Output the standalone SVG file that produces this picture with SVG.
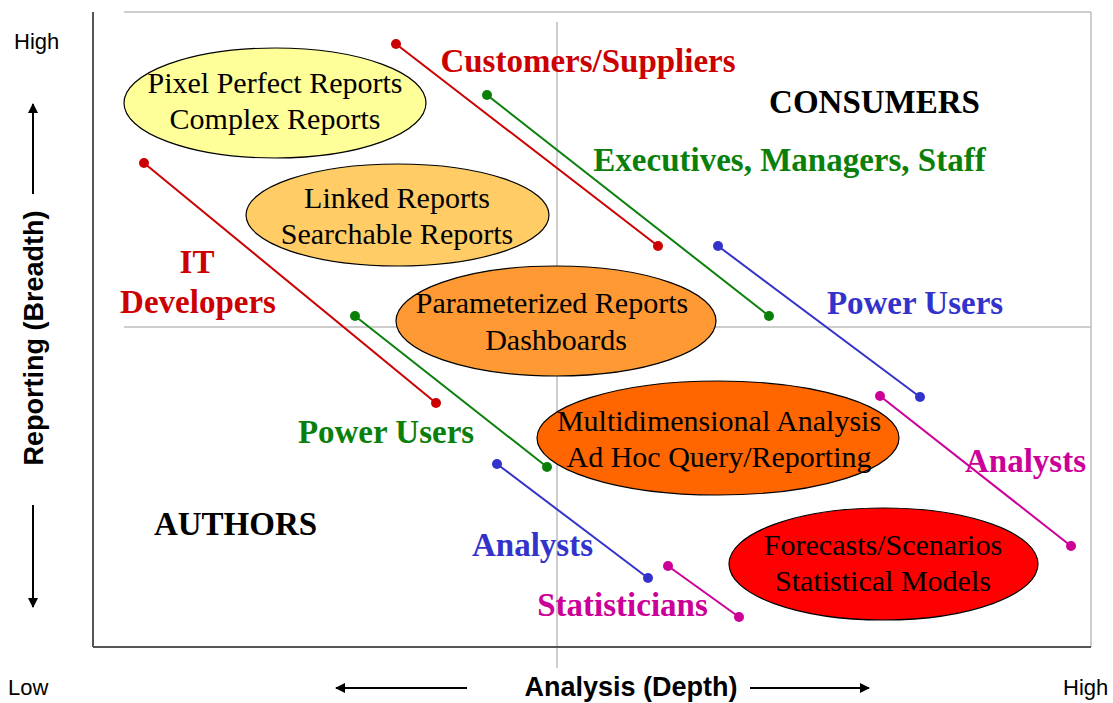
<svg xmlns="http://www.w3.org/2000/svg" width="1113" height="703" viewBox="0 0 1113 703">
<defs>
<style>
.grid{stroke:#BDBDBD;stroke-width:1.5;fill:none}
.axis{stroke:#555;stroke-width:2;fill:none}
.arr{stroke:#000;stroke-width:2;fill:none}
.ax{font-family:"Liberation Sans",Arial,sans-serif;fill:#000}
.axb{font-family:"Liberation Sans",Arial,sans-serif;font-weight:bold;font-size:27px;fill:#000}
.ell{stroke:#000;stroke-width:1.2}
.et{font-family:"Liberation Serif","Times New Roman",serif;font-size:30px;fill:#000;text-anchor:middle}
.lb{font-family:"Liberation Serif","Times New Roman",serif;font-size:33px;font-weight:bold;text-anchor:middle}
.red{stroke:#CC0000;fill:#CC0000}
.grn{stroke:#0A800A;fill:#0A800A}
.blu{stroke:#3333CC;fill:#3333CC}
.mag{stroke:#CC0099;fill:#CC0099}
.conn line{stroke-width:2}
.conn circle{stroke:none}
</style>
<marker id="ah" viewBox="0 0 10 10" refX="9" refY="5" markerWidth="5" markerHeight="5" orient="auto" markerUnits="strokeWidth">
<path d="M0,0 L10,5 L0,10 z" fill="#000"/>
</marker>
</defs>
<rect width="1113" height="703" fill="#fff"/>

<g id="grid">
<line class="grid" x1="124" y1="12" x2="1091" y2="12"/>
<line class="grid" x1="1091" y1="12" x2="1091" y2="647"/>
<line class="grid" x1="124" y1="327" x2="1091" y2="327"/>
<line class="grid" x1="557" y1="22" x2="557" y2="668"/>
<line class="axis" x1="93" y1="12" x2="93" y2="647"/>
<line class="axis" x1="93" y1="647" x2="1091" y2="647"/>
</g>

<g id="axes">
<text class="ax" x="14" y="49" font-size="22">High</text>
<text class="ax" x="8" y="695" font-size="22">Low</text>
<text class="ax" x="1063" y="695" font-size="22">High</text>
<text class="axb" x="631" y="696" text-anchor="middle">Analysis (Depth)</text>
<text class="axb" transform="translate(43,338) rotate(-90)" text-anchor="middle">Reporting (Breadth)</text>
<line class="arr" x1="467" y1="688" x2="336" y2="688" marker-end="url(#ah)"/>
<line class="arr" x1="750" y1="688" x2="869" y2="688" marker-end="url(#ah)"/>
<line class="arr" x1="33" y1="194" x2="33" y2="104" marker-end="url(#ah)"/>
<line class="arr" x1="33" y1="505" x2="33" y2="607" marker-end="url(#ah)"/>
</g>

<g id="n-pixel">
<ellipse class="ell" cx="275" cy="103" rx="151" ry="55" fill="#FFFF99"/>
<text class="et" x="275" y="93">Pixel Perfect Reports</text>
<text class="et" x="275" y="129">Complex Reports</text>
</g>
<g id="n-linked">
<ellipse class="ell" cx="397.5" cy="215" rx="151.5" ry="51" fill="#FFCC66"/>
<text class="et" x="397" y="208">Linked Reports</text>
<text class="et" x="397" y="244">Searchable Reports</text>
</g>
<g id="n-param">
<ellipse class="ell" cx="556" cy="321" rx="160" ry="55" fill="#FF9933"/>
<text class="et" x="552" y="313">Parameterized Reports</text>
<text class="et" x="556" y="350">Dashboards</text>
</g>
<g id="n-multi">
<ellipse class="ell" cx="718" cy="438" rx="181" ry="57" fill="#FF6600"/>
<text class="et" x="719" y="431">Multidimensional Analysis</text>
<text class="et" x="719" y="467">Ad Hoc Query/Reporting</text>
</g>
<g id="n-forecast">
<ellipse class="ell" cx="883.5" cy="564" rx="154.5" ry="56" fill="#FF0000"/>
<text class="et" x="883" y="555">Forecasts/Scenarios</text>
<text class="et" x="883" y="591">Statistical Models</text>
</g>

<g id="labels">
<text class="lb" x="588" y="72" fill="#CC0000">Customers/Suppliers</text>
<text class="lb" x="874.5" y="113" fill="#000">CONSUMERS</text>
<text class="lb" x="789.5" y="171" fill="#0A800A">Executives, Managers, Staff</text>
<text class="lb" x="915" y="314" fill="#3333CC">Power Users</text>
<text class="lb" x="197" y="273" fill="#CC0000">IT</text>
<text class="lb" x="198" y="313" fill="#CC0000">Developers</text>
<text class="lb" x="386" y="443" fill="#0A800A">Power Users</text>
<text class="lb" x="235.5" y="535" fill="#000">AUTHORS</text>
<text class="lb" x="532.5" y="556" fill="#3333CC">Analysts</text>
<text class="lb" x="622.5" y="616" fill="#CC0099">Statisticians</text>
<text class="lb" x="1025.5" y="472" fill="#CC0099">Analysts</text>
</g>

<g id="connectors" class="conn">
<g class="red"><line x1="396" y1="44" x2="658" y2="246"/><circle cx="396" cy="44" r="5"/><circle cx="658" cy="246" r="5"/></g>
<g class="red"><line x1="144" y1="163" x2="436" y2="403"/><circle cx="144" cy="163" r="5"/><circle cx="436" cy="403" r="5"/></g>
<g class="grn"><line x1="487" y1="95" x2="769" y2="316"/><circle cx="487" cy="95" r="5"/><circle cx="769" cy="316" r="5"/></g>
<g class="grn"><line x1="355" y1="316" x2="547" y2="467"/><circle cx="355" cy="316" r="5"/><circle cx="547" cy="467" r="5"/></g>
<g class="blu"><line x1="718" y1="246" x2="920" y2="397"/><circle cx="718" cy="246" r="5"/><circle cx="920" cy="397" r="5"/></g>
<g class="blu"><line x1="497" y1="464" x2="648" y2="578"/><circle cx="497" cy="464" r="5"/><circle cx="648" cy="578" r="5"/></g>
<g class="mag"><line x1="880" y1="396" x2="1071" y2="546"/><circle cx="880" cy="396" r="5"/><circle cx="1071" cy="546" r="5"/></g>
<g class="mag"><line x1="668" y1="566" x2="739" y2="617"/><circle cx="668" cy="566" r="5"/><circle cx="739" cy="617" r="5"/></g>
</g>
</svg>
